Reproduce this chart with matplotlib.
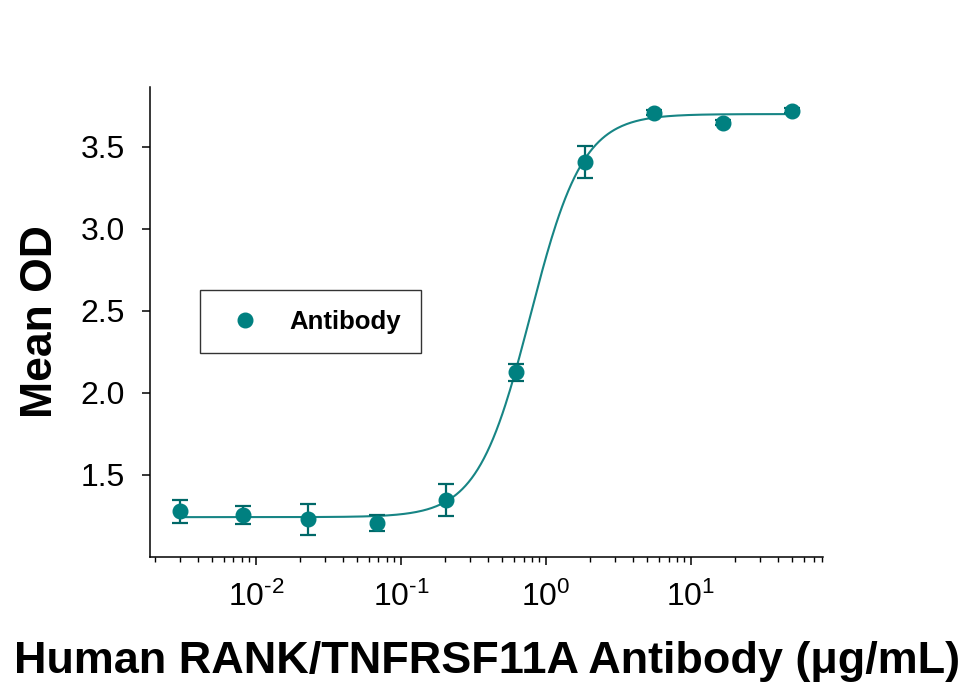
import numpy as np
import matplotlib
matplotlib.use("Agg")
import matplotlib.pyplot as plt
from matplotlib.ticker import LogLocator, FixedLocator, NullFormatter

plt.rcParams['font.family'] = ['Liberation Sans', 'DejaVu Sans']
plt.rcParams['mathtext.fontset'] = 'custom'
plt.rcParams['mathtext.rm'] = 'Liberation Sans'
plt.rcParams['mathtext.it'] = 'Liberation Sans:italic'
plt.rcParams['mathtext.bf'] = 'Liberation Sans:bold'

# ---- data ----
conc = [0.0030, 0.0081, 0.0229, 0.0686, 0.206, 0.617, 1.85, 5.56, 16.7, 50.0]
mean_od = [1.28, 1.256, 1.231, 1.207, 1.347, 2.125, 3.41, 3.707, 3.646, 3.72]
sem = [0.07, 0.055, 0.095, 0.05, 0.095, 0.05, 0.097, 0.015, 0.015, 0.015]

# 4-parameter logistic fit parameters (estimated from the curve)
fit_bottom = 1.243
fit_top = 3.70
fit_ec50 = 0.78
fit_hill = 2.4

series_label = "Antibody"
x_label = "Human RANK/TNFRSF11A Antibody (\u03bcg/mL)"
y_label = "Mean OD"
y_ticks = [1.5, 2.0, 2.5, 3.0, 3.5]
x_major = [1e-2, 1e-1, 1e0, 1e1]
x_tick_labels = [r'$10^{\text{-}2}$', r'$10^{\text{-}1}$', r'$10^{0}$', r'$10^{1}$']

marker_color = "#008080"
err_color = "#006868"
line_color = "#178585"

fig = plt.figure(figsize=(9.68, 6.97), dpi=100)
ax = fig.add_axes([150/968, 1-557/697, (823-150)/968, (557-87)/697])

xc = np.logspace(np.log10(min(conc)), np.log10(max(conc)), 400)
yc = fit_bottom + (fit_top - fit_bottom) / (1 + (fit_ec50 / xc) ** fit_hill)
ax.plot(xc, yc, color=line_color, lw=1.5, zorder=2)

ax.errorbar(conc, mean_od, yerr=sem, fmt='none', ecolor=err_color,
            elinewidth=1.6, capsize=5.5, capthick=1.6, zorder=3)
ax.plot(conc, mean_od, 'o', color=marker_color, ms=10.5, mec=marker_color,
        zorder=4, label=series_label)

ax.set_xscale('log')
ax.set_xlim(0.00186, 81.3)
ax.set_ylim(1.0, 3.865)

for s in ['top', 'right']:
    ax.spines[s].set_visible(False)
for s in ['left', 'bottom']:
    ax.spines[s].set_linewidth(1.1)

ax.xaxis.set_major_locator(FixedLocator(x_major))
ax.xaxis.set_minor_locator(LogLocator(base=10, subs=np.arange(2, 10), numticks=20))
ax.xaxis.set_minor_formatter(NullFormatter())
ax.set_xticklabels(x_tick_labels)
ax.set_yticks(y_ticks)
ax.set_yticklabels([f"{v:.1f}" for v in y_ticks])

ax.tick_params(axis='both', which='major', direction='out', length=6, width=1.1,
               labelsize=23)
ax.tick_params(axis='x', which='minor', direction='out', length=3.5, width=1.0)
ax.tick_params(axis='y', which='major', pad=12)
ax.tick_params(axis='x', which='major', pad=12)

ax.set_ylabel(y_label, fontsize=32, fontweight='bold', labelpad=14)
fig.text(487/968, 1-673/697, x_label, fontsize=32.4, fontweight='bold',
         ha='center', va='baseline')

leg = ax.legend(loc='upper left', bbox_to_anchor=((200-150)/673, (557-290)/470),
                borderaxespad=0, frameon=True, fancybox=False,
                prop={'weight': 'bold', 'size': 18.5}, handlelength=2.0,
                handletextpad=0.72, borderpad=0.76, numpoints=1, markerscale=1.0)
leg.get_frame().set_edgecolor('black')
leg.get_frame().set_linewidth(1.0)

fig.savefig('out.png', dpi=100)
